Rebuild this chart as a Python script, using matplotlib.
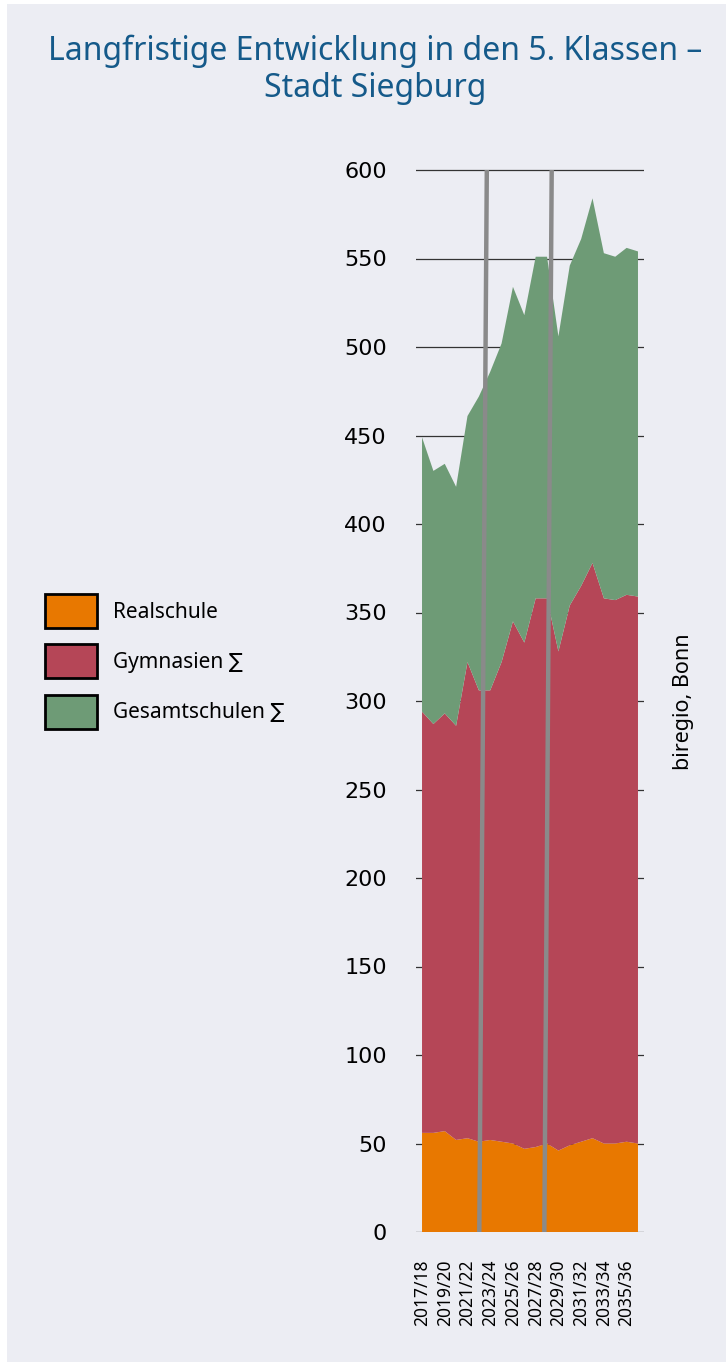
import numpy as np
import matplotlib.pyplot as plt
from matplotlib.patches import Rectangle

plt.rcParams['font.family'] = ['Noto Sans', 'DejaVu Sans']

years = ['2017/18', '2018/19', '2019/20', '2020/21', '2021/22', '2022/23', '2023/24',
         '2024/25', '2025/26', '2026/27', '2027/28', '2028/29', '2029/30', '2030/31',
         '2031/32', '2032/33', '2033/34', '2034/35', '2035/36', '2036/37']
realschule = [56, 56, 57, 52, 53, 51, 52, 51, 50, 47, 48, 50, 46, 49, 51, 53, 50, 50, 51, 50]
gymnasien = [238, 231, 236, 234, 269, 255, 254, 271, 295, 286, 310, 308, 282, 305, 314, 325,
             308, 307, 309, 309]
gesamtschulen = [155, 143, 141, 135, 139, 166, 180, 180, 189, 185, 193, 193, 178, 192, 196, 206,
                 195, 194, 196, 195]
series_labels = ['Realschule', 'Gymnasien \u2211', 'Gesamtschulen \u2211']
colors = ['#E87800', '#B54657', '#6E9B76']

# slanted grey marker lines (category position at top / at bottom)
marker_top = [5.70, 11.41]
marker_bottom = [5.04, 10.76]

bg = '#ECEDF3'
W, H = 726, 1362
fig = plt.figure(figsize=(W / 100, H / 100), dpi=100, facecolor='white')
fig.patches.append(Rectangle((7 / W, 0), 1 - 7 / W, 1 - 4 / H, transform=fig.transFigure,
                             facecolor=bg, edgecolor='none', zorder=-10))

ymax = 602
ax_h = 1062 * ymax / 600
ax = fig.add_axes([416 / W, 130 / H, 228 / W, ax_h / H])
ax.set_facecolor('none')

x = np.arange(len(years))
ax.stackplot(x, realschule, gymnasien, gesamtschulen, labels=series_labels, colors=colors,
             zorder=2)
for t, b in zip(marker_top, marker_bottom):
    ax.plot([b, t], [0, 600], color='#8A8A8A', lw=3.2, zorder=3, solid_capstyle='butt')

ax.set_xlim(-0.53, 19.53)
ax.set_ylim(0, ymax)
ax.set_yticks(range(0, 601, 50))
ax.grid(axis='y', color='#333333', lw=0.9, zorder=0)
ax.set_axisbelow(True)
for s in ax.spines.values():
    s.set_visible(False)
ax.tick_params(axis='y', length=0, pad=21)
for lbl in ax.get_yticklabels():
    lbl.set_fontfamily('DejaVu Sans')
    lbl.set_fontsize(16)
ax.set_xticks(x[::2])
ax.set_xticklabels(years[::2], rotation=90, fontsize=12.5)
ax.tick_params(axis='x', length=0, pad=20)

fig.text(375 / W, 1 - 35 / H, 'Langfristige Entwicklung in den 5. Klassen \u2013\nStadt Siegburg',
         ha='center', va='top', fontsize=23, color='#155A8A', linespacing=1.15)

fig.legend(loc='upper left', bbox_to_anchor=(45 / W, 1 - 594 / H), frameon=False,
           fontsize=15, handlelength=2.5, handleheight=2.15, labelspacing=0.77,
           handletextpad=0.77, borderpad=0, borderaxespad=0)
for h in fig.legends[0].legend_handles:
    h.set_edgecolor('black')
    h.set_linewidth(2)

fig.text(684 / W, 1 - 702 / H, 'biregio, Bonn', rotation=90, ha='center', va='center',
         fontsize=15.5)

fig.savefig('out.png', dpi=100, facecolor='white')
